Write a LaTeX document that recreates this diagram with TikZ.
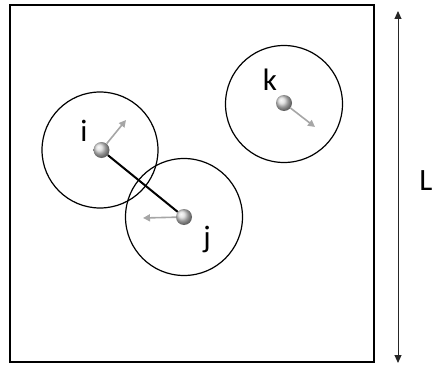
\documentclass[tikz,border=0pt]{standalone}
\usepackage{fontspec}
\setmainfont{Carlito}
\usetikzlibrary{arrows.meta}
\begin{document}
\begin{tikzpicture}[x=1pt,y=-1pt,
  zone/.style={draw=black,line width=1.2pt},
  particle/.style={circle,minimum size=16pt,inner sep=0pt,shading=ball,ball color=gray!30},
  vel/.style={draw=gray!70,line width=1.6pt,-{Triangle[length=7pt,width=7pt]}},
  lbl/.style={font=\fontsize{31}{31}\selectfont,inner sep=0pt}]
\useasboundingbox (0,0) rectangle (434,369);
\node[draw=black,line width=1.3pt,minimum width=364pt,minimum height=357pt,inner sep=0pt] (box) at (192,183.5) {};
\draw[zone] (100,150) circle (58);
\draw[zone] (184,217) circle (58.5);
\draw[zone] (284,104) circle (58.5);
\node[particle] (i) at (101.5,150) {};
\node[particle] (j) at (184,217) {};
\node[particle] (k) at (284,103) {};
\draw[black,line width=2pt] (i) -- (j);
\coordinate (vi) at (126,120);
\coordinate (vj) at (143,218);
\coordinate (vk) at (315,127);
\draw[vel] (i) -- (vi);
\draw[vel] (j) -- (vj);
\draw[vel] (k) -- (vk);
\node[lbl] (li) at (84,131) {i};
\node[lbl] (lj) at (207,239) {j};
\node[lbl] (lk) at (270,80) {k};
\coordinate (top) at (398,11);
\coordinate (bot) at (398,363);
\draw[black!85,line width=1pt,{Triangle[length=8pt,width=7pt]}-{Triangle[length=8pt,width=7pt]}] (top) -- (bot);
\node[lbl] (L) at (426,181) {L};
\end{tikzpicture}
\end{document}
